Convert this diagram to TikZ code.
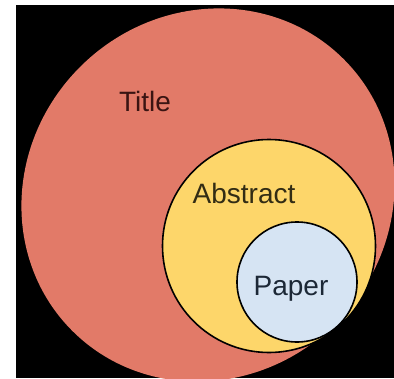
\documentclass[tikz,border=0pt]{standalone}
\usepackage{fontspec}
\setmainfont{Liberation Sans}
\definecolor{salmon}{RGB}{226,122,104}
\definecolor{absyellow}{RGB}{253,214,106}
\definecolor{paperblue}{RGB}{214,228,243}
\definecolor{titletext}{RGB}{58,20,18}
\definecolor{abstext}{RGB}{50,44,20}
\definecolor{papertext}{RGB}{28,40,54}
\tikzset{
  ring/.style={circle, draw=black, line width=1.6pt, inner sep=0pt, outer sep=0pt},
  lab/.style={anchor=base, inner sep=0pt, font=\fontsize{28}{32}\selectfont}
}
\begin{document}
\begin{tikzpicture}[x=1pt,y=-1pt]
\useasboundingbox (0,0) rectangle (394,378);
\fill[white] (0,0) rectangle (394,378);
\fill[black] (16,5) rectangle (394,378);
\begin{scope}
\clip (16,5) rectangle (394,378);
\fill[salmon, rotate around={45:(208,195)}] (208,195) ellipse [x radius=192, y radius=181];
\end{scope}
\node[ring, fill=absyellow, minimum size=213pt] (abstract) at (269,246) {};
\node[ring, fill=paperblue, minimum size=120pt] (paper) at (297,282) {};
\node[lab, text=titletext] (titlelab) at (145,111) {Title};
\node[lab, text=abstext] (abstractlab) at (244,203.5) {Abstract};
\node[lab, text=papertext] (paperlab) at (291,295) {Paper};
\end{tikzpicture}
\end{document}
